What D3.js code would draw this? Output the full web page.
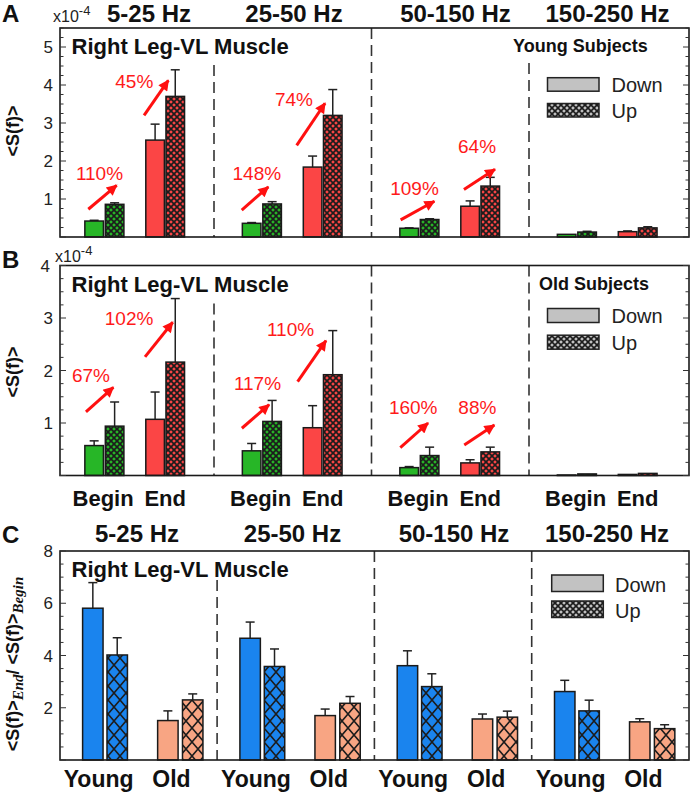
<!DOCTYPE html>
<html><head><meta charset="utf-8">
<script src="https://cdn.jsdelivr.net/npm/d3@7"></script>
<style>body{margin:0;background:#fff}svg{display:block}text{font-family:"Liberation Sans",Arial,sans-serif}</style>
</head><body><svg id="chart" width="692" height="793"></svg>
<script>
// ---------------- DATA ----------------
const bands = ["5-25 Hz", "25-50 Hz", "50-150 Hz", "150-250 Hz"];
const abLabels = ["Begin", "End"];
const cLabels = ["Young", "Old"];
const legendLabels = ["Down", "Up"];

// Panel A: young subjects, <S(f)> (x10^-4)
const youngBeginDown = [0.42, 0.36, 0.23, 0.07];
const youngBeginDownErr = [0.02, 0.02, 0.01, 0.0];
const youngBeginUp = [0.86, 0.87, 0.46, 0.13];
const youngBeginUpErr = [0.04, 0.06, 0.02, 0.02];
const youngEndDown = [2.55, 1.84, 0.81, 0.14];
const youngEndDownErr = [0.42, 0.29, 0.14, 0.02];
const youngEndUp = [3.70, 3.20, 1.34, 0.24];
const youngEndUpErr = [0.70, 0.68, 0.23, 0.03];

// Panel B: old subjects, <S(f)> (x10^-4)
const oldBeginDown = [0.57, 0.47, 0.15, 0.01];
const oldBeginDownErr = [0.09, 0.14, 0.02, 0.0];
const oldBeginUp = [0.94, 1.03, 0.38, 0.03];
const oldBeginUpErr = [0.46, 0.40, 0.16, 0.0];
const oldEndDown = [1.07, 0.91, 0.24, 0.02];
const oldEndDownErr = [0.52, 0.42, 0.06, 0.0];
const oldEndUp = [2.16, 1.92, 0.45, 0.04];
const oldEndUpErr = [1.21, 0.84, 0.09, 0.0];

// Panel C: ratio End/Begin
const ratioYoungDown = [5.81, 4.66, 3.61, 2.62];
const ratioYoungDownErr = [0.98, 0.62, 0.57, 0.43];
const ratioYoungUp = [4.02, 3.58, 2.81, 1.88];
const ratioYoungUpErr = [0.66, 0.67, 0.49, 0.41];
const ratioOldDown = [1.51, 1.70, 1.57, 1.46];
const ratioOldDownErr = [0.37, 0.25, 0.19, 0.12];
const ratioOldUp = [2.30, 2.17, 1.64, 1.20];
const ratioOldUpErr = [0.23, 0.26, 0.23, 0.15];

// percent-increase annotations (x in band units, y in data units)
const annotA = [
  {t:"110%", x0:0.202, y0:0.73, x1:0.382, y1:1.36, lx:0.273, ly:1.50},
  {t:"45%",  x0:0.556, y0:3.20, x1:0.710, y1:4.12, lx:0.494, ly:3.93},
  {t:"148%", x0:1.176, y0:0.71, x1:1.345, y1:1.32, lx:1.272, ly:1.50},
  {t:"74%",  x0:1.525, y0:2.41, x1:1.705, y1:3.52, lx:1.508, ly:3.46},
  {t:"109%", x0:2.185, y0:0.45, x1:2.399, y1:0.94, lx:2.273, ly:1.10},
  {t:"64%",  x0:2.587, y0:1.25, x1:2.784, y1:1.78, lx:2.670, ly:2.21}
];
const annotB = [
  {t:"67%",  x0:0.187, y0:1.21, x1:0.361, y1:1.68, lx:0.219, ly:1.79},
  {t:"102%", x0:0.562, y0:2.26, x1:0.738, y1:2.92, lx:0.461, ly:2.87},
  {t:"117%", x0:1.177, y0:0.90, x1:1.350, y1:1.35, lx:1.276, ly:1.63},
  {t:"110%", x0:1.531, y0:1.79, x1:1.711, y1:2.57, lx:1.486, ly:2.66},
  {t:"160%", x0:2.183, y0:0.53, x1:2.359, y1:1.00, lx:2.265, ly:1.17},
  {t:"88%",  x0:2.589, y0:0.58, x1:2.780, y1:0.96, lx:2.672, ly:1.17}
];

// ---------------- DRAW ----------------
const svg = d3.select("#chart");
svg.append("rect").attr("width",692).attr("height",793).attr("fill","#fff");
const defs = svg.append("defs");

const COL = {green:"#27b627", red:"#fb4545", blue:"#1a84ee", salmon:"#f8a583", gray:"#c2c2c2"};
function hatch(id, color, w, h, sw){
  const p = defs.append("pattern").attr("id",id).attr("patternUnits","userSpaceOnUse")
    .attr("width",w).attr("height",h);
  p.append("rect").attr("width",w).attr("height",h).attr("fill",color);
  p.append("path").attr("d",`M0,0L${w},${h}M${w},0L0,${h}`)
    .attr("stroke","#1c1c1c").attr("stroke-width",sw).attr("fill","none");
}
hatch("hg", COL.green, 6, 6, 1.7);
hatch("hr", COL.red, 6, 6, 1.7);
hatch("hgray", COL.gray, 6, 6, 1.6);
hatch("hb", COL.blue, 12, 14, 1.6);
hatch("hs", COL.salmon, 12, 14, 1.6);

defs.append("marker").attr("id","ah").attr("viewBox","0 0 10 10").attr("refX",9).attr("refY",5)
  .attr("markerWidth",4.2).attr("markerHeight",3.6).attr("orient","auto").attr("markerUnits","strokeWidth")
  .append("path").attr("d","M0,0L10,5L0,10z").attr("fill","#ff1010");

function panel(cfg){
  const x = d3.scaleLinear().domain([0,4]).range(cfg.xr);
  const y = d3.scaleLinear().domain([0,cfg.ymax]).range([cfg.yb, cfg.yt]);
  const g = svg.append("g");
  const L = cfg.fl, R = cfg.fr;
  [1,2,3].forEach((d,i)=>{
    g.append("line").attr("x1",x(d)).attr("x2",x(d)).attr("y1",cfg.yt+cfg.divOff[i]).attr("y2",cfg.yb)
      .attr("stroke","#333").attr("stroke-width",1.6).attr("stroke-dasharray","11,6");
  });
  cfg.series.forEach(s=>{
    s.vals.forEach((v,i)=>{
      const x0 = x(i + s.off), w = x(s.w) - x(0);
      const top = y(v), e = y(v + s.err[i]);
      if (s.err[i] > 0) {
        g.append("line").attr("x1",x0+w/2).attr("x2",x0+w/2).attr("y1",top).attr("y2",e)
          .attr("stroke","#222").attr("stroke-width",1.5);
        g.append("line").attr("x1",x0+w/2-4.5).attr("x2",x0+w/2+4.5).attr("y1",e).attr("y2",e)
          .attr("stroke","#222").attr("stroke-width",1.5);
      }
      g.append("rect").attr("x",x0).attr("y",top).attr("width",w).attr("height",Math.max(0,cfg.yb-top))
        .attr("fill",s.fill).attr("stroke","#1a1a1a").attr("stroke-width",1.5);
    });
  });
  g.append("rect").attr("x",L).attr("y",cfg.yt).attr("width",R-L).attr("height",cfg.yb-cfg.yt)
    .attr("fill","none").attr("stroke","#1a1a1a").attr("stroke-width",1.6);
  const minor = d3.range(0, cfg.ymax+1e-9, cfg.minor);
  minor.forEach(v=>{
    const isMajor = Math.abs(v/cfg.major - Math.round(v/cfg.major))<1e-6;
    const len = isMajor ? 6 : 3.5;
    [[L, len],[R, -len]].forEach(([xx,d])=>{
      g.append("line").attr("x1",xx).attr("x2",xx+d).attr("y1",y(v)).attr("y2",y(v))
        .attr("stroke","#333").attr("stroke-width",1);
    });
  });
  cfg.labels.forEach(v=>{
    g.append("text").attr("x",53).attr("y",y(v)+6).attr("text-anchor","end")
      .attr("font-size",17).attr("fill","#222").text(v);
  });
  g.append("text").attr("x",71.5).attr("y",cfg.titleY).attr("font-size",22).attr("font-weight","bold")
    .attr("fill","#111").text("Right Leg-VL Muscle");
  if (cfg.subj) g.append("text").attr("x",cfg.subjX).attr("y",cfg.subjY).attr("font-size",18)
    .attr("font-weight","bold").attr("fill","#111").text(cfg.subj);
  const lg = cfg.leg;
  legendLabels.forEach((t,i)=>{
    g.append("rect").attr("x",lg.x).attr("y",lg.ys[i]).attr("width",lg.w).attr("height",lg.h)
      .attr("fill", i===0 ? COL.gray : "url(#hgray)").attr("stroke","#222").attr("stroke-width",1.5);
    g.append("text").attr("x",lg.tx).attr("y",lg.ys[i]+lg.h+0.5).attr("font-size",20).attr("fill","#222").text(t);
  });
  (cfg.annot||[]).forEach(a=>{
    g.append("line").attr("x1",x(a.x0)).attr("y1",y(a.y0)).attr("x2",x(a.x1)).attr("y2",y(a.y1))
      .attr("stroke","#ff1010").attr("stroke-width",3).attr("marker-end","url(#ah)");
    g.append("text").attr("x",x(a.lx)).attr("y",y(a.ly)).attr("text-anchor","middle")
      .attr("font-size",19).attr("fill","#ff1a1a").text(a.t);
  });
  const yl = g.append("text").attr("transform",`translate(${cfg.ylx},${cfg.yly}) rotate(-90)`)
    .attr("text-anchor","middle").attr("font-size",cfg.ylSize||18).attr("font-weight","bold").attr("fill","#111");
  cfg.ylab(yl);
  if (cfg.cats) {
    bands.forEach((b,i)=>{
      cfg.cats.labels.forEach((t,j)=>{
        g.append("text").attr("x",x(i+cfg.cats.pos[j])).attr("y",cfg.cats.y).attr("text-anchor","middle")
          .attr("font-size",cfg.cats.size).attr("font-weight","bold").attr("fill","#111").text(t);
      });
    });
  }
  return {x,y,g};
}

const simpleYL = t => t.text("<S(f)>");

panel({xr:[56.5,686.5], fl:60, fr:689, yt:28, yb:237, ymax:5.5, major:1, minor:0.25, labels:[1,2,3,4,5],
  divOff:[37,0,35], titleY:53.5, subj:"Young Subjects", subjX:513, subjY:52,
  leg:{x:547.5, w:51.5, h:13.5, ys:[77.7,103.5], tx:611.5},
  annot:annotA, ylx:19, yly:131, ylab:simpleYL,
  series:[
    {vals:youngBeginDown, err:youngBeginDownErr, off:0.18, w:0.118, fill:COL.green},
    {vals:youngBeginUp, err:youngBeginUpErr, off:0.31, w:0.118, fill:"url(#hg)"},
    {vals:youngEndDown, err:youngEndDownErr, off:0.567, w:0.118, fill:COL.red},
    {vals:youngEndUp, err:youngEndUpErr, off:0.695, w:0.118, fill:"url(#hr)"}
  ]});

panel({xr:[56.5,686.5], fl:60, fr:689, yt:265.5, yb:475.5, ymax:4, major:1, minor:0.25, labels:[1,2,3],
  divOff:[38,0,0], titleY:291.5, subj:"Old Subjects", subjX:539, subjY:290,
  leg:{x:547.5, w:51.5, h:14, ys:[308.5,335.2], tx:611.5},
  annot:annotB, ylx:19, yly:372, ylab:simpleYL,
  cats:{labels:abLabels, pos:[0.296,0.69], y:506, size:22},
  series:[
    {vals:oldBeginDown, err:oldBeginDownErr, off:0.18, w:0.118, fill:COL.green},
    {vals:oldBeginUp, err:oldBeginUpErr, off:0.31, w:0.118, fill:"url(#hg)"},
    {vals:oldEndDown, err:oldEndDownErr, off:0.567, w:0.118, fill:COL.red},
    {vals:oldEndUp, err:oldEndUpErr, off:0.695, w:0.118, fill:"url(#hr)"}
  ]});

panel({xr:[59.8,689], fl:60, fr:689, yt:551, yb:760, ymax:8, major:2, minor:0.5, labels:[2,4,6,8],
  divOff:[29,0,0], titleY:576.5, subj:null,
  leg:{x:551.7, w:51.6, h:16.5, ys:[575,601], tx:615},
  ylx:19, yly:664, ylSize:18,
  ylab: t => {
    t.append("tspan").text("<S(f)>");
    t.append("tspan").attr("font-family","'Liberation Serif',serif").attr("font-style","italic")
      .attr("font-size",15).attr("dy",4).text("End");
    t.append("tspan").attr("dy",-4).text("/ <S(f)>");
    t.append("tspan").attr("font-family","'Liberation Serif',serif").attr("font-style","italic")
      .attr("font-size",15).attr("dy",4).text("Begin");
  },
  cats:{labels:cLabels, pos:[0.247,0.71], y:787, size:23},
  series:[
    {vals:ratioYoungDown, err:ratioYoungDownErr, off:0.145, w:0.13, fill:COL.blue},
    {vals:ratioYoungUp, err:ratioYoungUpErr, off:0.30, w:0.13, fill:"url(#hb)"},
    {vals:ratioOldDown, err:ratioOldDownErr, off:0.622, w:0.13, fill:COL.salmon},
    {vals:ratioOldUp, err:ratioOldUpErr, off:0.78, w:0.13, fill:"url(#hs)"}
  ]});

const headA = [149, 294, 455.5, 607.5], headC = [137, 292.5, 454, 607];
bands.forEach((b,i)=>{
  svg.append("text").attr("x",headA[i]).attr("y",22).attr("text-anchor","middle").attr("font-size",24)
    .attr("font-weight","bold").attr("fill","#111").text(b);
  svg.append("text").attr("x",headC[i]).attr("y",542).attr("text-anchor","middle").attr("font-size",24)
    .attr("font-weight","bold").attr("fill","#111").text(b);
});
[["A",22],["B",268],["C",543]].forEach(([t,yy])=>{
  svg.append("text").attr("x",2).attr("y",yy).attr("font-size",24).attr("font-weight","bold").attr("fill","#111").text(t);
});
function expo(x, y){
  const t = svg.append("text").attr("x",x).attr("y",y).attr("font-size",16).attr("fill","#222");
  t.append("tspan").text("x10");
  t.append("tspan").attr("dy",-7).attr("font-size",13).text("-4");
}
expo(53, 21.5);
svg.append("text").attr("x",50).attr("y",272).attr("text-anchor","end").attr("font-size",17).attr("fill","#222").text("4");
expo(55, 262);
</script></body></html>
